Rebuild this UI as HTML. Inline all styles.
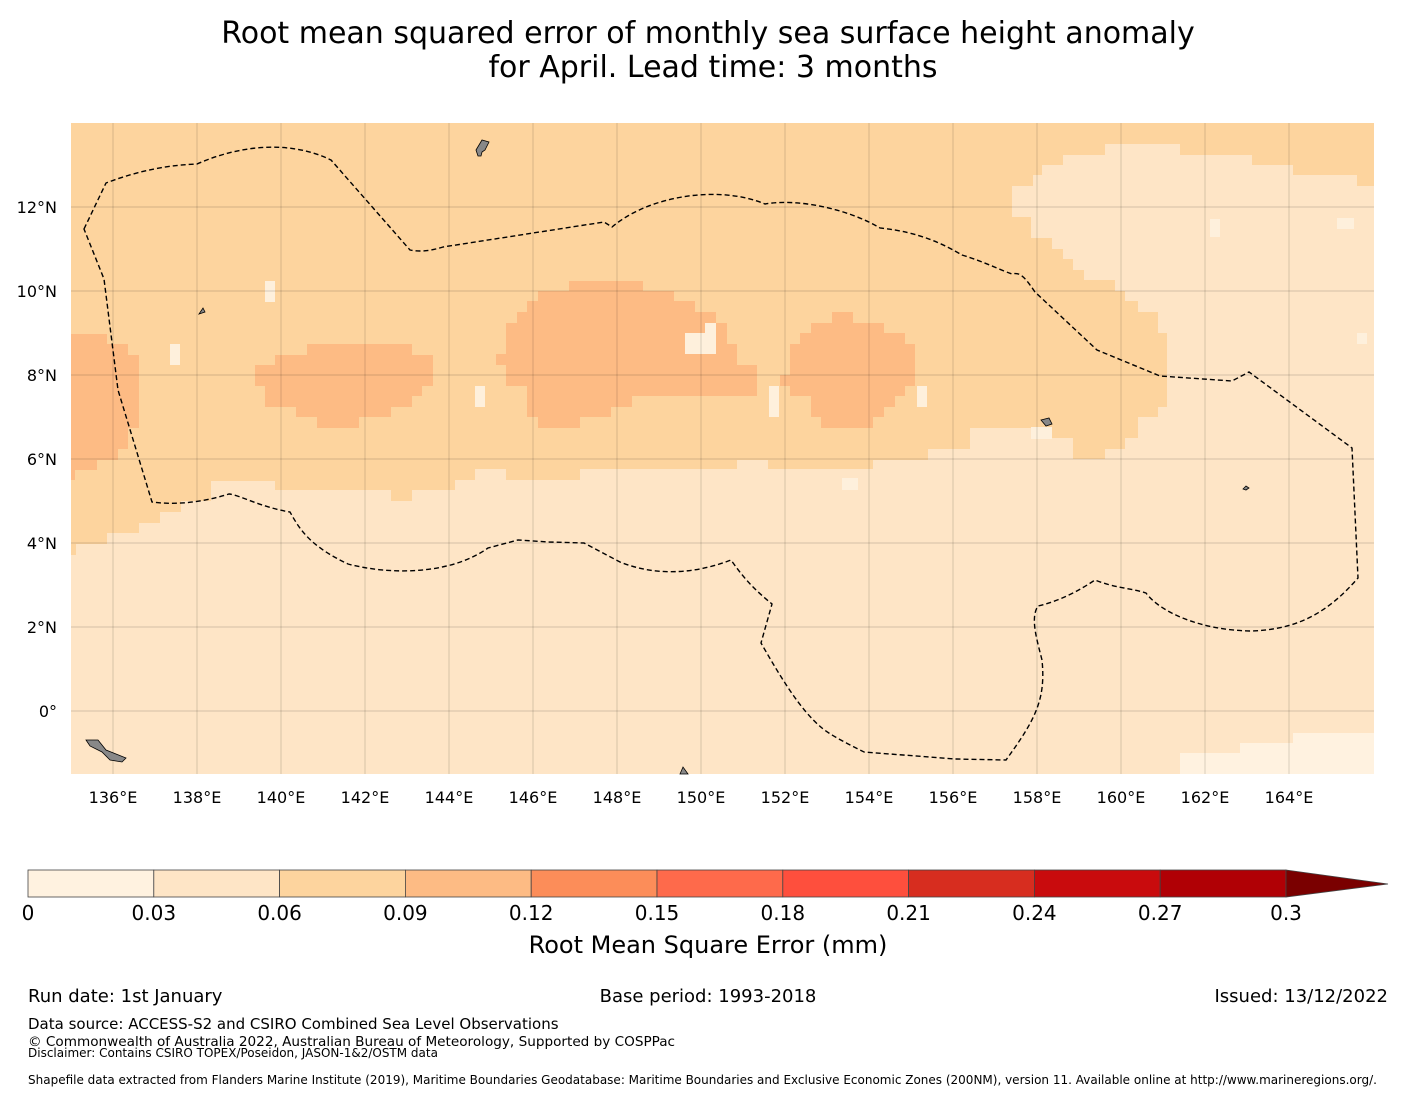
<!DOCTYPE html>
<html><head><meta charset="utf-8"><style>
body{margin:0;background:#fff;font-family:"DejaVu Sans","Liberation Sans",sans-serif}
svg text{font-family:"DejaVu Sans","Liberation Sans",sans-serif}
</style></head><body>
<svg id="s" width="1416" height="1095" xmlns="http://www.w3.org/2000/svg">
<text x="708" y="43" font-size="30" text-anchor="middle">Root mean squared error of monthly sea surface height anomaly</text>
<text x="713" y="77" font-size="30" text-anchor="middle">for April. Lead time: 3 months</text>
<g id="map"></g>
<g id="cb"></g>
<text x="708" y="953" font-size="24" text-anchor="middle">Root Mean Square Error (mm)</text>
<text x="28" y="1002" font-size="18">Run date: 1st January</text>
<text x="708" y="1002" font-size="18" text-anchor="middle">Base period: 1993-2018</text>
<text x="1388" y="1002" font-size="18" text-anchor="end">Issued: 13/12/2022</text>
<text x="28" y="1029" font-size="15">Data source: ACCESS-S2 and CSIRO Combined Sea Level Observations</text>
<text x="28" y="1046" font-size="13.6">© Commonwealth of Australia 2022, Australian Bureau of Meteorology, Supported by COSPPac</text>
<text x="28" y="1057" font-size="12">Disclaimer: Contains CSIRO TOPEX/Poseidon, JASON-1&amp;2/OSTM data</text>
<text x="28" y="1084" font-size="12">Shapefile data extracted from Flanders Marine Institute (2019), Maritime Boundaries Geodatabase: Maritime Boundaries and Exclusive Economic Zones (200NM), version 11. Available online at http://www.marineregions.org/.</text>
</svg>
<script>
const NS="http://www.w3.org/2000/svg";
const lonTicks=[136,138,140,142,144,146,148,150,152,154,156,158,160,162,164];
const latTicks=[0,2,4,6,8,10,12];
const cbBounds=[0,0.03,0.06,0.09,0.12,0.15,0.18,0.21,0.24,0.27,0.3];
const cbColors=["#fff2e0","#fee5c6","#fdd49e","#fdbb84","#fc8d59","#fe6a4b","#fe4f3d","#d72d1f","#c90b0d","#b00005"];
const x=lon=>71+(lon-135)*42, y=lat=>711-lat*42;
const svg=document.getElementById('s'),map=document.getElementById('map'),cb=document.getElementById('cb');
function el(t,a,p){const e=document.createElementNS(NS,t);for(const k in a)e.setAttribute(k,a[k]);p.appendChild(e);return e;}
let bg=el('rect',{x:71,y:123,width:1303,height:651,fill:"#fdd49e"},map);


const light="71,774 71,555 76,555 76,544 107,544 107,533 139,533 139,523 160,523 160,512 181,512 181,501 211,501 211,481 275,481 275,490 391,490 391,501 412,501 412,490 455,490 455,480 475,480 475,469 506,469 506,480 580,480 580,469 737,469 737,460 768,460 768,469 873,469 873,460 928,460 928,449 970,449 970,428 1031,428 1031,438 1073,438 1073,459 1105,459 1105,449 1125,449 1125,438 1138,438 1138,417 1158,417 1158,407 1167,407 1167,375 1167,333 1158,333 1158,312 1138,312 1138,301 1125,301 1125,291 1115,291 1115,280 1084,280 1084,270 1073,270 1073,259 1063,259 1063,249 1052,249 1052,238 1031,238 1031,217 1012,217 1012,186 1033,186 1033,175 1042,175 1042,165 1063,165 1063,155 1105,155 1105,144 1180,144 1180,155 1252,155 1252,165 1293,165 1293,175 1357,175 1357,186 1374,186 1374,774";
let lp=el('polygon',{points:light,fill:"#fee5c6"},map);


let lt=el('polygon',{points:"1180,774 1180,753 1240,753 1240,743 1293,743 1293,733 1374,733 1374,774",fill:"#fff2e0"},map);


const blobs=["71,334 107,334 107,344 128,344 128,355 139,355 139,428 128,428 128,449 118,449 118,460 97,460 97,470 75,470 75,480 71,480",
"255,365 275,365 275,355 307,355 307,344 412,344 412,355 433,355 433,386 422,386 422,396 412,396 412,407 391,407 391,417 359,417 359,428 317,428 317,417 296,417 296,407 265,407 265,386 255,386",
"496,354 506,354 506,323 517,323 517,312 527,312 527,301 538,301 538,291 569,291 569,281 643,281 643,291 674,291 674,301 695,301 695,312 716,312 716,323 727,323 727,344 737,344 737,365 757,365 757,396 632,396 632,407 611,407 611,417 580,417 580,428 538,428 538,417 527,417 527,386 506,386 506,365 496,365",
"780,375 790,375 790,344 800,344 800,333 811,333 811,323 832,323 832,312 853,312 853,323 884,323 884,333 905,333 905,344 915,344 915,386 905,386 905,396 895,396 895,407 884,407 884,417 873,417 873,428 821,428 821,417 811,417 811,396 790,396 790,386 780,386"];
blobs.forEach((p,i)=>{let b=el('polygon',{points:p,fill:"#fdbb84"},map);

});
[[265,281,10,21],[170,344,10,21],[475,386,10,21],[685,333,31,21],[705,323,11,10],[769,386,10,31],[917,386,10,21],[1210,219,10,18],[1337,218,17,11],[1357,333,10,11],[842,478,16,12],[1031,427,21,12]].forEach(r=>{let w=el('rect',{x:r[0],y:r[1],width:r[2],height:r[3],fill:"#fef0dc"},map);

});
lonTicks.forEach(l=>{let g=el('line',{x1:x(l),x2:x(l),y1:123,y2:774,stroke:"#000","stroke-opacity":0.22,"stroke-width":0.7},map);


let t=el('text',{x:x(l),y:803,"font-size":16,"text-anchor":"middle"},svg);t.textContent=l+"°E";

});
latTicks.forEach(l=>{let g=el('line',{x1:71,x2:1374,y1:y(l),y2:y(l),stroke:"#000","stroke-opacity":0.22,"stroke-width":0.7},map);


let t=el('text',{x:57,y:y(l)+6,"font-size":16,"text-anchor":"end"},svg);t.textContent=l===0?"0°":l+"°N";

});
const eez=["M84,229 L106,183 C140,170 170,165 197,164 C240,145 290,140 331,160 L410,250 C420,252 430,251 443,247 L604,222 L612,227 C650,195 720,185 765,204 C800,198 850,210 880,228 C920,232 945,245 962,255 C985,262 1000,270 1012,274 C1020,272 1024,276 1035,292 L1097,350 L1160,376 L1232,381 L1249,372 L1352,448 L1358,578 C1330,610 1300,630 1250,631 C1200,630 1160,612 1146,593 C1130,588 1115,588 1095,580 C1080,590 1060,601 1038,606 C1030,618 1037,640 1042,660 C1046,700 1035,720 1006,760 L955,759 L864,752 C850,745 830,735 822,728 C800,710 780,676 761,643 L772,604 C755,590 745,580 731,560 C700,572 660,578 620,562 L584,543 L549,542 L518,540 L488,548 C450,575 390,575 348,564 C310,546 300,530 290,512 C260,507 240,495 229,494 C200,503 175,505 152,502 L118,390 L104,279 Z"];
eez.forEach(d=>{let p=el('path',{d:d,fill:"none",stroke:"#000","stroke-width":1.4,"stroke-dasharray":"5,3"},map);

});
[[476,140,"M476,150 l6,-10 l7,2 l-4,8 l-3,2 l-1,4 l-3,0 z"],[86,738,"M86,740 l12,0 l8,10 l10,4 l10,4 l-4,4 l-12,-2 l-8,-8 l-12,-6 z"],[1041,418,"M1041,420 l8,-2 l3,6 l-6,2 z"],[680,768,"M680,774 l3,-7 l5,7 z"],[1243,486,"M1243,489 l3,-3 l3,2 l-3,2 z"],[199,310,"M199,314 l4,-6 l2,4 z"]].forEach(a=>{let p=el('path',{d:a[2],fill:"#888",stroke:"#000","stroke-width":0.8},map);

});
const cx0=28,cw=(1286-28)/10;
cbColors.forEach((c,i)=>{let r=el('rect',{x:cx0+i*cw,y:870,width:cw,height:27,fill:c,stroke:"#444","stroke-width":0.8},cb);

});
let tri=el('polygon',{points:"1286,870 1388,884 1286,897",fill:"#7a0000",stroke:"#444","stroke-width":0.8},cb);


cbBounds.forEach((b,i)=>{let t=el('text',{x:cx0+i*cw,y:920,"font-size":20,"text-anchor":"middle"},cb);t.textContent=String(b);

});
</script>
</body></html>
